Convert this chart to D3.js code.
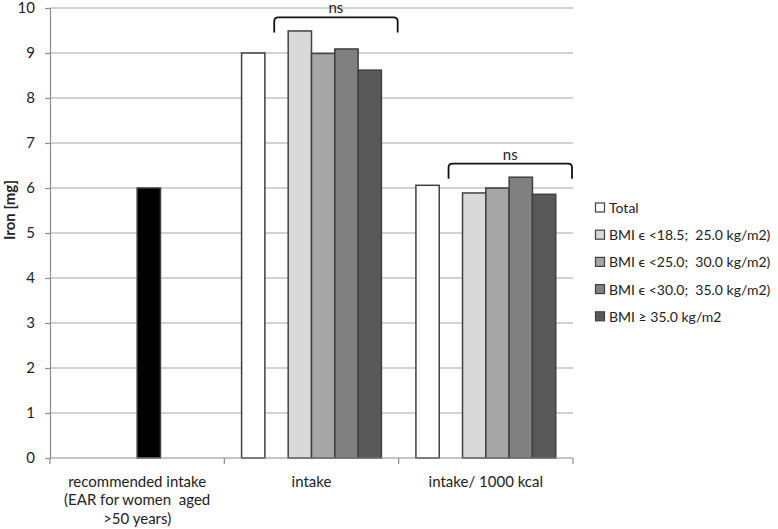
<!DOCTYPE html>
<html>
<head>
  <meta charset="utf-8">
  <script src="https://cdnjs.cloudflare.com/ajax/libs/d3/7.8.5/d3.min.js"></script>
  <style>
    body { margin: 0; background: #fff; }
    text { font-family: Lato, "Liberation Sans", sans-serif; fill: #222; white-space: pre; }
  </style>
</head>
<body>
<div id="chart"></div>
<script>
"use strict";

// categories on the x axis (one entry per line of the label)
var categories = ["recommended", "intake", "perkcal"];
var categoryLines = [
  ["recommended intake", "(EAR for women  aged", ">50 years)"],
  ["intake"],
  ["intake/ 1000 kcal"]
];

// series values, null where the series has no bar
var recommended = [6.0, null, null];
var total       = [null, 9.0, 6.06];
var bmi1        = [null, 9.49, 5.89];
var bmi2        = [null, 8.99, 6.0];
var bmi3        = [null, 9.09, 6.24];
var bmi4        = [null, 8.62, 5.86];

var legendNames = [
  "Total",
  "BMI \u03f5 <18.5;  25.0 kg/m2)",
  "BMI \u03f5 <25.0;  30.0 kg/m2)",
  "BMI \u03f5 <30.0;  35.0 kg/m2)",
  "BMI \u2265 35.0 kg/m2"
];
var yTicks = [0, 1, 2, 3, 4, 5, 6, 7, 8, 9, 10];

// "ns" brackets over the BMI bars of a category
var nsGroups = ["intake", "perkcal"];

var W = 778, H = 529;
var margin = {left: 50, right: 205, top: 8, bottom: 71};

var svg = d3.select("#chart").append("svg")
  .attr("width", W).attr("height", H);

var x0 = d3.scaleBand().domain(categories)
  .range([margin.left, W - margin.right]);
// slot order inside a group; the second slot stays empty
var slots = ["Total", "gap", "b1", "b2", "b3", "b4"];
var x1 = d3.scaleBand().domain(slots)
  .range([0, x0.bandwidth()]).paddingOuter(0.74);
var y = d3.scaleLinear().domain([0, 10])
  .range([H - margin.bottom, margin.top]);

var series = [
  {key: "b2",    vals: recommended, fill: "#000000"}, // EAR bar sits in this slot
  {key: "Total", vals: total, fill: "#ffffff"},
  {key: "b1",    vals: bmi1,  fill: "#d9d9d9"},
  {key: "b2",    vals: bmi2,  fill: "#a6a6a6"},
  {key: "b3",    vals: bmi3,  fill: "#808080"},
  {key: "b4",    vals: bmi4,  fill: "#595959"}
];

// gridlines
svg.append("g").selectAll("line")
  .data(yTicks.slice(1))
  .enter().append("line")
  .attr("x1", margin.left).attr("x2", W - margin.right)
  .attr("y1", function (d) { return y(d); })
  .attr("y2", function (d) { return y(d); })
  .attr("stroke", "#a6a6a6").attr("stroke-width", 1.2);

// y axis
var yAxis = svg.append("g")
  .attr("transform", "translate(" + margin.left + ",0)")
  .call(d3.axisLeft(y).tickValues(yTicks).tickSize(5).tickPadding(10));
yAxis.select(".domain").attr("stroke", "#8c8c8c").attr("stroke-width", 1.2);
yAxis.selectAll(".tick line").attr("stroke", "#8c8c8c").attr("stroke-width", 1.2);
yAxis.selectAll("text")
  .style("font-family", "Lato, sans-serif").style("font-size", "15px").attr("fill", "#222");

// bars
series.forEach(function (s) {
  svg.append("g").selectAll("rect")
    .data(categories.map(function (c, i) { return {cat: c, v: s.vals[i]}; })
      .filter(function (d) { return d.v != null; }))
    .enter().append("rect")
    .attr("x", function (d) { return x0(d.cat) + x1(s.key); })
    .attr("width", x1.bandwidth())
    .attr("y", function (d) { return y(d.v); })
    .attr("height", function (d) { return y(0) - y(d.v); })
    .attr("fill", s.fill)
    .attr("stroke", "#404040").attr("stroke-width", 1.5);
});

// x axis with boundary ticks
var xg = svg.append("g");
xg.append("line")
  .attr("x1", margin.left).attr("x2", W - margin.right)
  .attr("y1", y(0)).attr("y2", y(0))
  .attr("stroke", "#8c8c8c").attr("stroke-width", 1.2);
var bounds = categories.map(function (c) { return x0(c); })
  .concat([x0(categories[categories.length - 1]) + x0.bandwidth()]);
xg.selectAll(".bt").data(bounds).enter().append("line")
  .attr("x1", function (d) { return d; }).attr("x2", function (d) { return d; })
  .attr("y1", y(0)).attr("y2", y(0) + 6)
  .attr("stroke", "#8c8c8c").attr("stroke-width", 1.2);

categories.forEach(function (c, i) {
  var t = svg.append("text")
    .attr("x", x0(c) + x0.bandwidth() / 2)
    .attr("y", y(0) + 29)
    .attr("text-anchor", "middle")
    .style("font-size", "15px");
  categoryLines[i].forEach(function (line, j) {
    t.append("tspan")
      .attr("x", x0(c) + x0.bandwidth() / 2)
      .attr("dy", j === 0 ? 0 : 18.3)
      .text(line);
  });
});

// y label
svg.append("text")
  .attr("transform", "translate(15,210) rotate(-90)")
  .attr("text-anchor", "middle")
  .style("font-size", "15px").style("font-weight", "bold")
  .text("Iron [mg]");

// ns brackets
nsGroups.forEach(function (c) {
  var i = categories.indexOf(c);
  var top = d3.max([bmi1[i], bmi2[i], bmi3[i], bmi4[i]]) + 0.3;
  var xl = x0(c) + x1("gap") + x1.bandwidth() * 0.4;
  var xr = x0(c) + x0.bandwidth() - 1;
  var yt = y(top), yb = y(top) + 15, r = 4;
  svg.append("path")
    .attr("d", "M" + xl + "," + yb + "V" + (yt + r) +
      "Q" + xl + "," + yt + " " + (xl + r) + "," + yt +
      "H" + (xr - r) + "Q" + xr + "," + yt + " " + xr + "," + (yt + r) +
      "V" + yb)
    .attr("fill", "none").attr("stroke", "#111").attr("stroke-width", 1.8);
  svg.append("text")
    .attr("x", (xl + xr) / 2).attr("y", yt - 4)
    .attr("text-anchor", "middle")
    .style("font-size", "15px").attr("fill", "#444")
    .text("ns");
});

// legend
var legendFills = ["#ffffff", "#d9d9d9", "#a6a6a6", "#808080", "#595959"];
var lg = svg.append("g").selectAll("g")
  .data(legendNames).enter().append("g")
  .attr("transform", function (d, i) { return "translate(595," + (207.5 + i * 27.2) + ")"; });
lg.append("rect")
  .attr("x", 0.5).attr("y", -4.5).attr("width", 9).attr("height", 9)
  .attr("fill", function (d, i) { return legendFills[i]; })
  .attr("stroke", "#404040").attr("stroke-width", 1.2);
lg.append("text")
  .attr("x", 14).attr("y", 5.5)
  .style("font-size", "14px")
  .text(function (d) { return d; });
</script>
</body>
</html>
